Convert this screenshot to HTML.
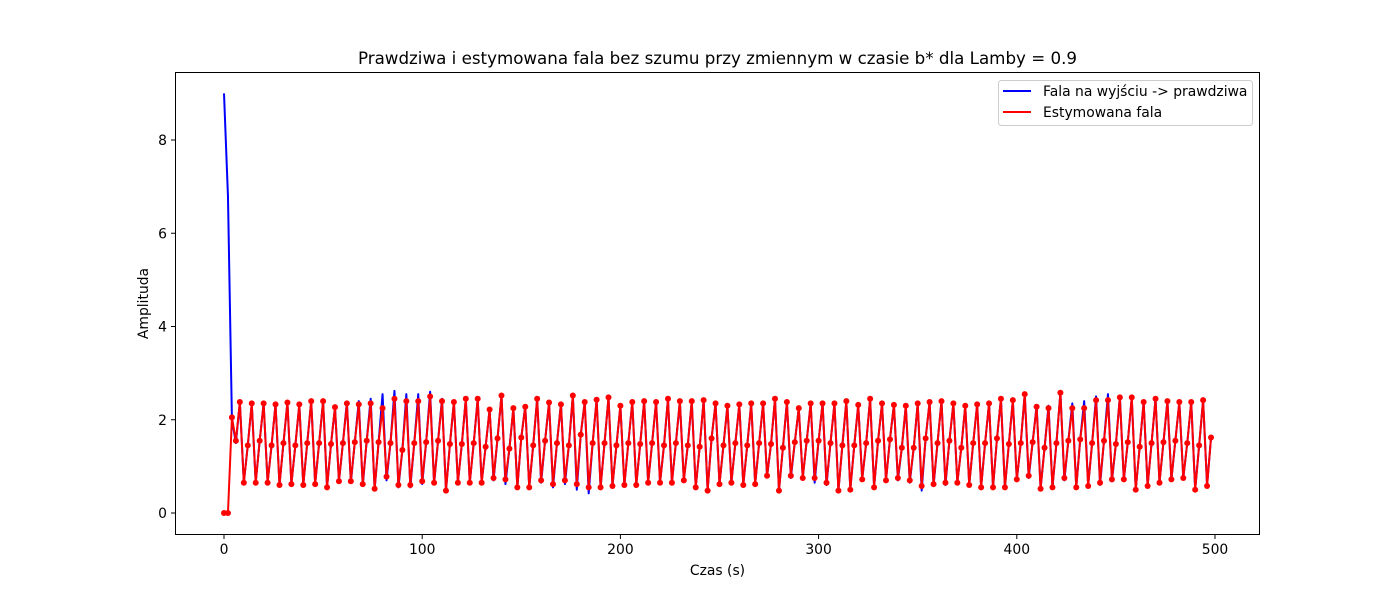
<!DOCTYPE html>
<html><head><meta charset="utf-8">
<style>
html,body{margin:0;padding:0;background:#fff;}
svg{display:block;font-family:"DejaVu Sans","Liberation Sans",sans-serif;}
</style></head>
<body>
<svg id="chart" width="1400" height="600"></svg>
<script>
const times = [];
for (let i = 0; i < 250; i++) times.push(i * 2);
const estStart = [0, 0, 2.05, 1.55];
const estHigh = [2.38,2.35,2.35,2.33,2.37,2.33,2.40,2.40,2.27,2.35,2.33,2.35,2.25,2.45,2.40,2.40,2.50,2.40,2.38,2.45,2.45,2.22,2.52,2.25,2.28,2.45,2.37,2.33,2.52,2.38,2.43,2.48,2.30,2.38,2.40,2.38,2.45,2.40,2.40,2.42,2.35,2.30,2.33,2.35,2.35,2.45,2.38,2.25,2.35,2.35,2.35,2.40,2.32,2.45,2.35,2.32,2.30,2.35,2.38,2.40,2.35,2.30,2.33,2.35,2.45,2.42,2.55,2.28,2.25,2.58,2.25,2.25,2.42,2.42,2.48,2.48,2.38,2.45,2.40,2.38,2.38,2.42];
const estLow = [0.65,0.65,0.65,0.60,0.62,0.60,0.62,0.55,0.68,0.68,0.62,0.52,0.78,0.60,0.60,0.68,0.65,0.48,0.65,0.65,0.65,0.75,0.72,0.55,0.55,0.70,0.62,0.70,0.62,0.55,0.55,0.58,0.60,0.60,0.65,0.65,0.65,0.70,0.55,0.48,0.62,0.65,0.60,0.62,0.80,0.48,0.80,0.75,0.75,0.65,0.48,0.50,0.72,0.55,0.70,0.75,0.70,0.58,0.62,0.65,0.65,0.60,0.55,0.55,0.55,0.72,0.80,0.52,0.55,0.75,0.55,0.58,0.65,0.72,0.72,0.50,0.58,0.65,0.72,0.75,0.50,0.58];
const estMid = [1.45,1.55,1.45,1.50,1.45,1.50,1.50,1.48,1.50,1.52,1.55,1.52,1.50,1.35,1.50,1.52,1.55,1.48,1.48,1.50,1.42,1.60,1.38,1.62,1.45,1.55,1.50,1.45,1.68,1.50,1.50,1.45,1.50,1.48,1.50,1.45,1.50,1.45,1.42,1.60,1.45,1.50,1.45,1.50,1.48,1.40,1.52,1.55,1.55,1.50,1.45,1.45,1.50,1.55,1.58,1.40,1.40,1.60,1.50,1.55,1.40,1.50,1.50,1.60,1.48,1.50,1.52,1.40,1.50,1.55,1.58,1.50,1.55,1.48,1.52,1.42,1.50,1.52,1.55,1.50,1.45,1.62];
const trueStart = [9.0, 6.8, 2.0, 1.5];
const trueHigh = [2.38,2.35,2.35,2.33,2.37,2.33,2.40,2.40,2.27,2.38,2.40,2.45,2.55,2.62,2.55,2.55,2.60,2.45,2.38,2.45,2.45,2.22,2.52,2.25,2.30,2.45,2.37,2.35,2.52,2.38,2.43,2.48,2.30,2.38,2.40,2.38,2.45,2.40,2.40,2.42,2.35,2.30,2.33,2.35,2.35,2.45,2.38,2.25,2.35,2.35,2.35,2.40,2.32,2.45,2.35,2.32,2.30,2.35,2.38,2.40,2.35,2.30,2.33,2.35,2.45,2.42,2.55,2.30,2.30,2.58,2.35,2.40,2.50,2.55,2.50,2.48,2.38,2.45,2.40,2.38,2.38,2.42];
const trueLow = [0.65,0.65,0.65,0.60,0.62,0.60,0.62,0.55,0.68,0.65,0.58,0.50,0.70,0.55,0.55,0.62,0.62,0.48,0.65,0.65,0.65,0.70,0.62,0.55,0.55,0.65,0.55,0.62,0.50,0.42,0.55,0.58,0.60,0.60,0.65,0.65,0.65,0.70,0.55,0.48,0.62,0.65,0.60,0.62,0.78,0.48,0.75,0.75,0.65,0.60,0.48,0.50,0.72,0.55,0.70,0.70,0.65,0.48,0.58,0.60,0.65,0.60,0.55,0.55,0.55,0.70,0.75,0.52,0.55,0.70,0.55,0.58,0.60,0.68,0.70,0.50,0.58,0.65,0.72,0.75,0.50,0.58];
const trueMid = estMid.slice();
const xTicks = [0,100,200,300,400,500];
const yTicks = [0,2,4,6,8];
const titleText = "Prawdziwa i estymowana fala bez szumu przy zmiennym w czasie b* dla Lamby = 0.9";

function build(start, h, l, m){ const a = start.slice(); for(let k=0;k<h.length;k++){a.push(h[k],l[k],m[k]);} return a; }
const estVals = build(estStart, estHigh, estLow, estMid);
const trueVals = build(trueStart, trueHigh, trueLow, trueMid);

const L=175,R=1260,T=72,B=535;
const xs = v => 224 + (v-0)*(1215-224)/500;
const ys = v => 513 - v*(513-140)/8;
const NS="http://www.w3.org/2000/svg";
const svg=document.getElementById('chart');
function mk(tag, attrs, parent){ const e=document.createElementNS(NS,tag); for(const k in attrs) e.setAttribute(k,attrs[k]); (parent||svg).appendChild(e); return e; }

const title=mk('text',{x:(L+R)/2,y:64,'text-anchor':'middle','font-size':16.7,fill:'#000'});


title.textContent=titleText;

const plot=mk('g',{});



function line(vals, color, name){
  const p=mk('polyline',{points:vals.map((v,i)=>xs(times[i]).toFixed(2)+','+ys(v).toFixed(2)).join(' '),fill:'none',stroke:color,'stroke-width':2,'stroke-linejoin':'round'},plot);
  
  
}
line(trueVals,'#0000ff','true-wave-line');
line(estVals,'#ff0000','estimated-wave-line');
const dots=mk('g',{fill:'#ff0000'},plot);


estVals.forEach((v,i)=>{ const c=mk('circle',{cx:xs(times[i]),cy:ys(v),r:3},dots);
  
   });

const frame=mk('rect',{x:L+0.5,y:T+0.5,width:R-L-1,height:B-T-1,fill:'none',stroke:'#000','stroke-width':1});



const xa=mk('g',{});


xTicks.forEach(t=>{ const x=xs(t); mk('line',{x1:x,y1:B,x2:x,y2:B+4,stroke:'#000'},xa);
  const tx=mk('text',{x:x,y:B+19,'text-anchor':'middle','font-size':13.9},xa);
  
  
  tx.textContent=t; });
const xl=mk('text',{x:(L+R)/2,y:575,'text-anchor':'middle','font-size':13.9});


xl.textContent='Czas (s)';

const ya=mk('g',{});


yTicks.forEach(t=>{ const y=ys(t); mk('line',{x1:L-4,y1:y,x2:L,y2:y,stroke:'#000'},ya);
  const tx=mk('text',{x:L-8,y:y+5,'text-anchor':'end','font-size':13.9},ya);
  
  
  tx.textContent=t; });
const yl=mk('text',{x:148,y:(T+B)/2,'text-anchor':'middle','font-size':13.9,transform:'rotate(-90 148 '+((T+B)/2)+')'});


yl.textContent='Amplituda';

const lg=mk('g',{});


mk('rect',{x:998.5,y:80.5,width:254,height:45,rx:3,fill:'#fff','fill-opacity':0.8,stroke:'#ccc'},lg);
[['#0000ff','Fala na wyjściu -> prawdziwa',91],['#ff0000','Estymowana fala',112]].forEach(([c,t,y],i)=>{
  const e=mk('g',{},lg);
  
  
  mk('line',{x1:1003,y1:y,x2:1031,y2:y,stroke:c,'stroke-width':2},e);
  const tx=mk('text',{x:1043,y:y+5,'font-size':13.9},e); tx.textContent=t; });
</script>
</body></html>
